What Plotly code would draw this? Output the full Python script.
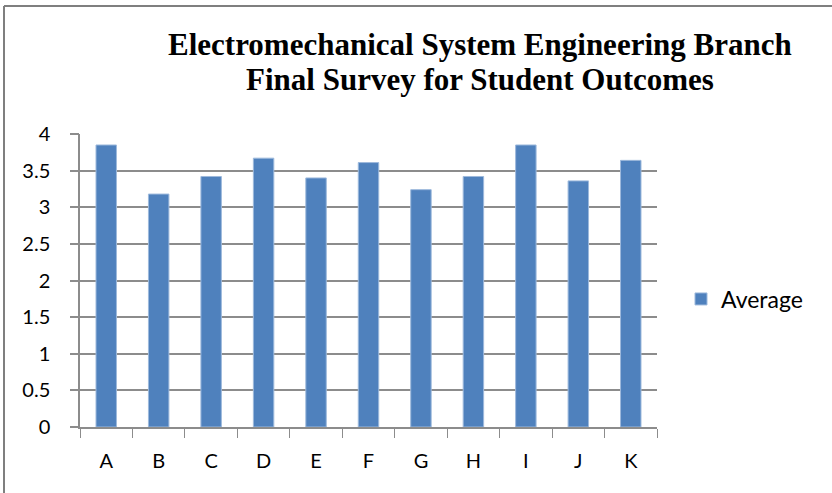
import plotly.graph_objects as go

categories = ["A", "B", "C", "D", "E", "F", "G", "H", "I", "J", "K"]
average = [3.85, 3.18, 3.42, 3.67, 3.40, 3.61, 3.24, 3.42, 3.85, 3.36, 3.64]
y_ticks = [0, 0.5, 1, 1.5, 2, 2.5, 3, 3.5, 4]
y_tick_labels = ["0", "0.5", "1", "1.5", "2", "2.5", "3", "3.5", "4"]
title_lines = ["Electromechanical System Engineering Branch",
               "Final Survey for Student Outcomes"]

W, H = 832, 493
L, R, T, B = 80, 175, 134, 66
pw, ph = W - L - R, H - T - B

def px_x(px):
    return (px - L) / pw

def px_y(py):
    return 1 - (py - T) / ph

fig = go.Figure()
fig.add_trace(go.Bar(
    x=categories, y=average, name="Average",
    marker=dict(color="#4F81BD", line=dict(color="#9DB9DC", width=1)),
    width=0.39,
))

grid = "#8C8C8C"
font = "Lato, 'Open Sans', sans-serif"
serif = "'Liberation Serif', 'Times New Roman', serif"
fig.update_layout(
    width=W, height=H, autosize=False,
    margin=dict(l=L, r=R, t=T, b=B),
    paper_bgcolor="white", plot_bgcolor="white",
    showlegend=True,
    legend=dict(x=px_x(681), y=px_y(299), xanchor="left", yanchor="middle",
                font=dict(family=font, size=23, color="black"),
                itemwidth=30, bgcolor="rgba(0,0,0,0)"),
    xaxis=dict(
        type="category", tickson="boundaries", ticks="outside", ticklen=9,
        tickcolor=grid, showline=True, linecolor=grid, linewidth=1.5,
        showgrid=False, tickfont=dict(family=font, size=20, color="black"),
        range=[-0.5, len(categories) - 0.5], ticklabelstandoff=15,
    ),
    # main y axis: labels pushed out with an invisible long tick
    yaxis=dict(
        range=[0, 4], tickvals=y_ticks, ticktext=y_tick_labels,
        ticks="outside", ticklen=24, tickcolor="rgba(0,0,0,0)",
        showline=True, linecolor=grid, linewidth=1.5,
        showgrid=True, gridcolor=grid, gridwidth=1.5, zeroline=False,
        tickfont=dict(family=font, size=20, color="black"),
    ),
    # overlay y axis: only the short visible tick marks
    yaxis2=dict(
        overlaying="y", side="left", range=[0, 4], tickvals=y_ticks,
        ticks="outside", ticklen=9, tickcolor=grid, tickwidth=1.5,
        showticklabels=False, showgrid=False, showline=False, zeroline=False,
    ),
    bargap=0.61,
)

# invisible trace to activate the overlay axis
fig.add_trace(go.Scatter(x=[categories[0]], y=[y_ticks[0]], yaxis="y2",
                         mode="markers", marker=dict(opacity=0),
                         showlegend=False, hoverinfo="skip"))

for line, cy in zip(title_lines, [45, 80]):
    fig.add_annotation(text=f"<b>{line}</b>", xref="paper", yref="paper",
                       x=px_x(480), y=px_y(cy), xanchor="center", yanchor="middle",
                       showarrow=False,
                       font=dict(family=serif, size=31, color="black"))

# chart-area border (only top and left edges visible in the cropped original)
fig.add_shape(type="line", xref="paper", yref="paper",
              x0=px_x(4), x1=px_x(834), y0=px_y(6), y1=px_y(6),
              line=dict(color="#7F7F7F", width=2), layer="below")
fig.add_shape(type="line", xref="paper", yref="paper",
              x0=px_x(4), x1=px_x(4), y0=px_y(6), y1=px_y(495),
              line=dict(color="#7F7F7F", width=2), layer="below")

fig.write_html("out.html")
